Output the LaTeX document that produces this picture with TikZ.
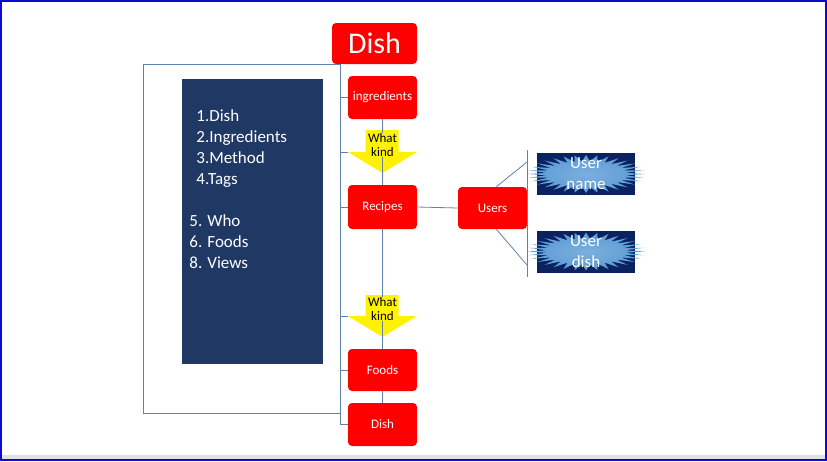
\documentclass[tikz,border=0pt]{standalone}
\usepackage{fontspec}
\setmainfont{Carlito}
\usetikzlibrary{shapes,shapes.geometric,positioning}

\definecolor{boxred}{HTML}{FF0000}
\definecolor{listnavy}{HTML}{1F3864}
\definecolor{usernavy}{HTML}{0A2260}
\definecolor{burst}{HTML}{5B9BD5}
\definecolor{linkblue}{HTML}{5F82AE}
\definecolor{frameblue}{HTML}{0A0AD0}

\begin{document}
\begin{tikzpicture}[x=1pt,y=-1pt,line width=0.8pt]
\tikzstyle{redbox}=[fill=boxred,rounded corners=4pt,text=white,minimum width=69pt,minimum height=43pt,font=\fontsize{13}{15}\selectfont]
\tikzstyle{listtext}=[text=white,inner sep=0pt,font=\fontsize{17}{21}\selectfont]
\tikzstyle{userbox}=[fill=usernavy,minimum width=98pt,minimum height=42pt]
\tikzstyle{burstshape}=[star,star points=32,star point ratio=1.5,minimum size=38pt,xscale=3.1,transform shape,inner color=burst!80!white,outer color=burst]
\tikzstyle{usertext}=[text=white,align=center,font=\fontsize{17}{21}\selectfont]
\tikzstyle{kindtext}=[fill=yellow,inner sep=0.5pt,align=center,font=\fontsize{13}{14}\selectfont]
\tikzstyle{link}=[draw=linkblue]
\useasboundingbox (0,0) rectangle (827,461);
\fill[black!12] (2,455) rectangle (825,459);
\draw[frameblue,line width=2pt] (1,1) rectangle (826,460);

% list panel
\node[fill=listnavy,minimum width=141pt,minimum height=285pt] (list) at (252.5,221.5) {};
\foreach \t [count=\i] in {1.Dish,2.Ingredients,3.Method,4.Tags}
  \node[listtext,anchor=base west] (la\i) at (196,101+20.8*\i) {\t};
\foreach \t [count=\i] in {5. Who,6. Foods,8. Views}
  \node[listtext,anchor=base west] (lb\i) at (189,205.9+20.8*\i) {\t};

% boxes
\node[redbox,minimum width=85pt,minimum height=41pt,font=\fontsize{30}{36}\selectfont] (dishtop) at (374.5,43.5) {Dish};
\node[redbox] (ingr) at (382.5,97.5) {ingredients};
\node[redbox,minimum height=44pt] (recipes) at (382.5,207) {Recipes};
\node[redbox,minimum height=42pt] (foods) at (382.5,370) {Foods};
\node[redbox] (dishbot) at (382.5,424.5) {Dish};
\node[redbox,minimum height=42pt] (users) at (492.5,208) {Users};

% what kind arrows
\fill[yellow] (365.5,130) -- (398.5,130) -- (398.5,152) -- (417,152) -- (382.5,173) -- (348,152) coordinate (ah1) -- (365.5,152) -- cycle;
\fill[yellow] (365.5,295) -- (398.5,295) -- (398.5,316) -- (417,316) -- (382.5,337) -- (348,316) coordinate (ah2) -- (365.5,316) -- cycle;

% user boxes
\node[userbox] (uname) at (586,174) {};
\node[userbox] (udish) at (586,251.5) {};
\node[burstshape] (bname) at (uname) {};
\node[burstshape] (bdish) at (udish) {};
\node[usertext] (tname) at (uname) {User\\name};
\node[usertext] (tdish) at (udish) {User\\dish};

% frame and bracket
\coordinate (bt) at (340,64);
\coordinate (bb) at (dishbot.west -| bt);
\coordinate (fa) at (143,64);
\coordinate (fb) at (143,413);
\coordinate (fc) at (340,413);
\draw[link] (bt) -- (fa) -- (fb) -- (fc);
\draw[link] (bt) -- (bb) -- (dishbot.west);
\draw[link] (ingr.west -| bt) -- (ingr.west);
\draw[link] (ah1 -| bt) -- (ah1);
\draw[link] (recipes.west -| bt) -- (recipes.west);
\draw[link] (ah2 -| bt) -- (ah2);
\draw[link] (foods.west -| bt) -- (foods.west);

% main line
\draw[link] (ingr.south) -- (recipes.north);
\draw[link] (recipes.south) -- (foods.north);
\draw[link] (foods.south) -- (dishbot.north);
\draw[link] (recipes.east) -- (users.west);

% users bracket
\coordinate (ua) at (527,150);
\coordinate (ub) at (527,277);
\coordinate (uc) at (527,162);
\coordinate (ud) at (527,265);
\draw[link] (ua) -- (ub);
\draw[link] ([xshift=4pt]users.north) -- (uc);
\draw[link] ([xshift=4pt]users.south) -- (ud);

\node[kindtext] (k1) at (382.5,145) {What\\kind};
\node[kindtext] (k2) at (382.5,309) {What\\kind};
\end{tikzpicture}
\end{document}
